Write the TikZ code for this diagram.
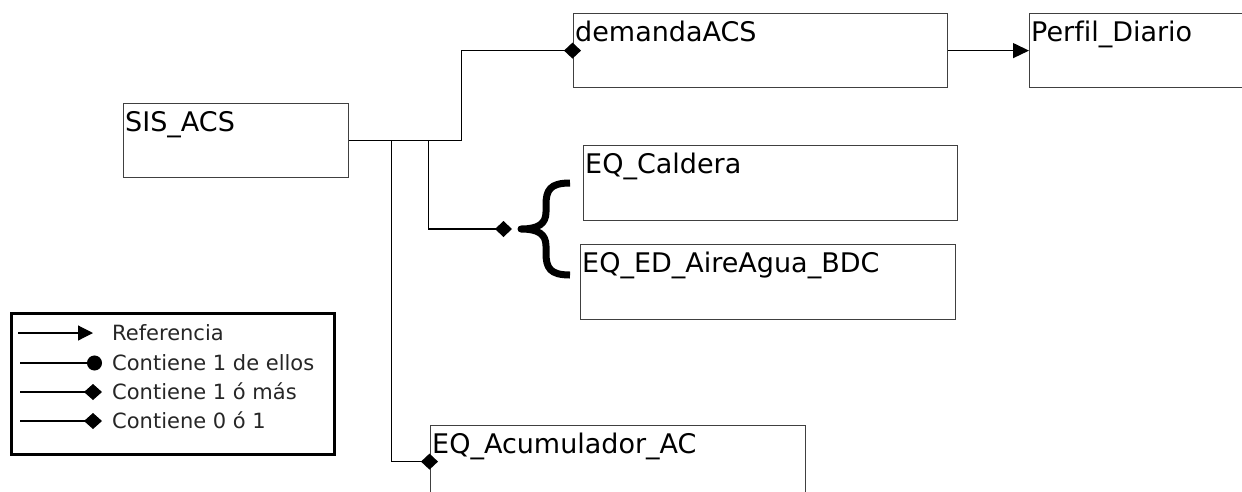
\documentclass[tikz,border=0pt]{standalone}
\usepackage{fontspec}
\setmainfont{DejaVu Sans}[Ligatures=NoCommon]
\usetikzlibrary{arrows.meta,positioning,calc}

\begin{document}
\begin{tikzpicture}[
    x=1pt, y=-1pt,
    block/.style = {rectangle, draw=black!75, line width=1.2pt, anchor=north west, inner sep=0pt},
    boxlabel/.style = {anchor=north west, inner xsep=2pt, inner ysep=8pt, text height=20pt, text depth=6pt, font=\fontsize{27}{31}\selectfont},
    legtext/.style = {anchor=west, inner sep=4pt, text height=15pt, text depth=0pt, text=black!85, font=\fontsize{21}{25}\selectfont},
    line/.style = {draw, line width=1.4pt},
    contiene/.style = {line, -{Diamond[length=17pt,width=16pt]}, shorten >=-8pt},
    ref/.style = {line, -{Triangle[length=16pt,width=15pt]}}
]
    \useasboundingbox (0,0) rectangle (1242,491);
    \clip (0,0) rectangle (1242,491);

    % Nodes
    \node [block, minimum width=225pt, minimum height=74pt, label={[boxlabel]north west:SIS\_ACS}] (sis) at (123,103) {};
    \node [block, minimum width=374pt, minimum height=74pt, label={[boxlabel]north west:demandaACS}] (demanda) at (573,13) {};
    \node [block, minimum width=240pt, minimum height=74pt, label={[boxlabel]north west:Perfil\_Diario}] (perfil) at (1029,13) {};
    \node [block, minimum width=374pt, minimum height=75pt, label={[boxlabel]north west:EQ\_Caldera}] (caldera) at (583,145) {};
    \node [block, minimum width=375pt, minimum height=75pt, label={[boxlabel]north west:EQ\_ED\_AireAgua\_BDC}] (aireagua) at (580,244) {};
    \node [block, minimum width=375pt, minimum height=72pt, label={[boxlabel]north west:EQ\_Acumulador\_AC}] (acumulador) at (430,425) {};

    \coordinate (bus-a) at ($(sis.east)+(42,0)$);
    \coordinate (bus-b) at ($(sis.east)+(79,0)$);
    \coordinate (bus-c) at ($(sis.east)+(112,0)$);
    \coordinate (punta) at (512,229);

    % Edges
    \draw [line] (sis.east) -- (bus-c);
    \draw [contiene] (bus-c) |- (demanda.west);
    \draw [contiene] (bus-a) |- (acumulador.west);
    \draw [line, -{Diamond[length=17pt,width=16pt]}] (bus-b) |- (punta);
    \draw [ref] (demanda.east) -- (perfil.west);

    % Brace
    \draw [line width=7pt, line join=round] (570,183) .. controls (550,183) and (546,190) .. (546,205)
        -- (546,212) .. controls (546,224) and (538,229) .. (521,229)
        .. controls (538,229) and (546,234) .. (546,246)
        -- (546,253) .. controls (546,268) and (550,275) .. (570,275);

    % Legend
    \node [draw, line width=3pt, anchor=north west, inner sep=0pt, minimum width=323pt, minimum height=141pt] (leyenda) at (10,312) {};
    \node [legtext] (l-ref) at (108,333) {Referencia};
    \node [legtext] (l-uno) at (108,363) {Contiene 1 de ellos};
    \node [legtext] (l-mas) at (108,392) {Contiene 1 ó más};
    \node [legtext] (l-cero) at (108,421) {Contiene 0 ó 1};

    \draw [line, line width=1.2pt, -{Triangle[length=15pt,width=15pt]}] ([xshift=-90pt]l-ref.west) -- ([xshift=-15pt]l-ref.west);
    \draw [line, line width=1.2pt, -{Circle[length=15pt]}] ([xshift=-88pt]l-uno.west) -- ([xshift=-6pt]l-uno.west);
    \draw [line, line width=1.2pt, -{Diamond[length=18pt,width=16pt]}] ([xshift=-88pt]l-mas.west) -- ([xshift=-6pt]l-mas.west);
    \draw [line, line width=1.2pt, -{Diamond[length=18pt,width=16pt]}] ([xshift=-88pt]l-cero.west) -- ([xshift=-6pt]l-cero.west);

\end{tikzpicture}
\end{document}
